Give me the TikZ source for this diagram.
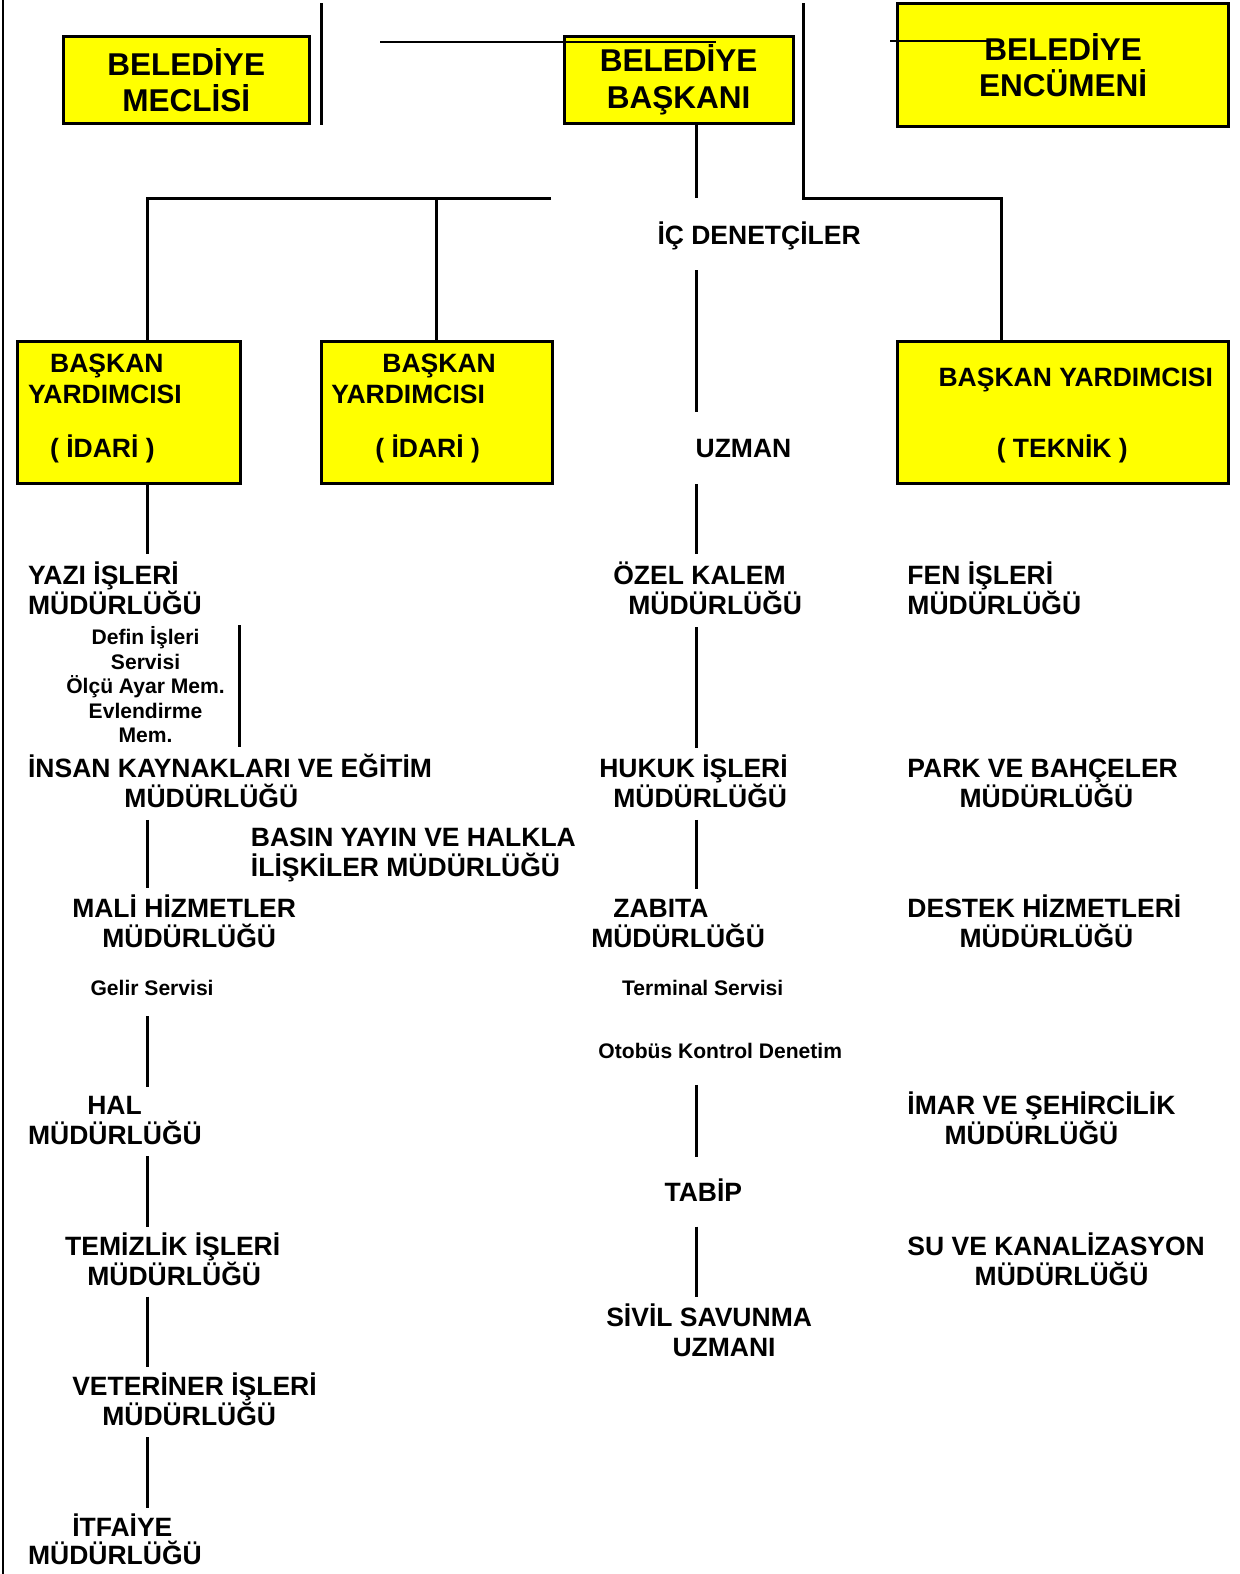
\documentclass[tikz,border=0pt]{standalone}
\usepackage{fontspec}
\setmainfont{Liberation Sans}
\usepackage{tikz}
\definecolor{boxyellow}{RGB}{255,255,0}

\begin{document}
\begin{tikzpicture}[x=0.5pt,y=-0.5pt]
    \tikzstyle{dept}=[font=\bfseries\fontsize{13.2}{15}\selectfont,inner sep=0pt,outer sep=0pt,anchor=base west,align=left]
    \tikzstyle{srv}=[font=\bfseries\fontsize{10.5}{12.25}\selectfont,inner sep=0pt,outer sep=0pt,anchor=base,align=center]
    \tikzstyle{topbox}=[draw,line width=1.5pt,fill=boxyellow,inner sep=0pt,align=center,font=\bfseries\fontsize{15.7}{18}\selectfont]
    \tikzstyle{vicebox}=[draw,line width=1.5pt,fill=boxyellow,inner sep=0pt,minimum height=71pt]
    \tikzstyle{link}=[line width=1.5pt]
    \tikzstyle{hair}=[line width=0.85pt]

    \useasboundingbox (0,0) rectangle (1235,1568);
    \draw [line width=1pt] (3,0) -- (3,1568);

    % top boxes
    \node (mec) [topbox,minimum width=122.5pt,minimum height=43.5pt] at (185.5,79.5) {BELED\.IYE\\MECL\.IS\.I};
    \node (bsk) [topbox,minimum width=114pt,minimum height=43.5pt] at (676,79.5) {BELED\.IYE\\BAŞKANI};
    \node (enc) [topbox,minimum width=165pt,minimum height=61.5pt] at (1059,64.5) {BELED\.IYE\\ENCÜMEN\.I};

    % vice presidents (base = last line)
    \node (vl) [vicebox,minimum width=111.5pt] at (128.5,411) {};
    \node (vm) [vicebox,minimum width=115pt] at (435,411) {};
    \node (vr) [vicebox,minimum width=165pt] at (1059,411) {};
    \node (vltxt) [dept] at (28,455.5) {\hspace*{11pt}BAŞKAN\\YARDIMCISI\\[12pt]\hspace*{11pt}( İDARİ )};
    \node (vmtxt) [dept] at (330,455.5) {\hspace*{25.5pt}BAŞKAN\\YARDIMCISI\\[12pt]\hspace*{22pt}( İDARİ )};
    \node (vrtxt) [dept] at (935,455.5) {BAŞKAN YARDIMCISI\\[20pt]\hspace*{29pt}( TEKNİK )};

    % left column
    \node (yazi) [dept] at (28,612.5) {YAZI İŞLERİ\\MÜDÜRLÜĞÜ};
    \node (defin) [srv] at (145,740) {Defin İşleri\\Servisi\\Ölçü Ayar Mem.\\Evlendirme\\Mem.};
    \node (insan) [dept] at (28,804.5) {İNSAN KAYNAKLARI VE EĞİTİM\\\hspace*{48pt}MÜDÜRLÜĞÜ};
    \node (basin) [dept] at (250,873.5) {BASIN YAYIN VE HALKLA\\İLİŞKİLER MÜDÜRLÜĞÜ};
    \node (mali) [dept] at (72,943.5) {MALİ HİZMETLER\\\hspace*{15pt}MÜDÜRLÜĞÜ};
    \node (gelir) [srv] at (151.5,991.5) {Gelir Servisi};
    \node (hal) [dept] at (28,1140.5) {\hspace*{29.5pt}HAL\\MÜDÜRLÜĞÜ};
    \node (temiz) [dept] at (65,1280.5) {TEMİZLİK İŞLERİ\\\hspace*{11pt}MÜDÜRLÜĞÜ};
    \node (veter) [dept] at (72,1420.5) {VETERİNER İŞLERİ\\\hspace*{15pt}MÜDÜRLÜĞÜ};
    \node (itfa) [dept] at (28,1558.5) {\hspace*{22pt}İTFAİYE\\[-1pt]MÜDÜRLÜĞÜ};

    % middle column
    \node (icd) [dept] at (655,243.5) {İÇ DENETÇİLER};
    \node (uzman) [dept] at (693,455.5) {UZMAN};
    \node (ozel) [dept] at (611,612.5) {ÖZEL KALEM\\\hspace*{7.5pt}MÜDÜRLÜĞÜ};
    \node (hukuk) [dept] at (597,804.5) {HUKUK İŞLERİ\\\hspace*{7pt}MÜDÜRLÜĞÜ};
    \node (zabita) [dept] at (589,943.5) {\hspace*{11pt}ZABITA\\MÜDÜRLÜĞÜ};
    \node (term) [srv] at (700,991.5) {Terminal Servisi};
    \node (otobus) [srv] at (717.5,1054.5) {Otobüs Kontrol Denetim};
    \node (tabip) [dept] at (662,1196.5) {TABİP};
    \node (sivil) [dept] at (604,1351.5) {SİVİL SAVUNMA\\\hspace*{33pt}UZMANI};

    % right column
    \node (fen) [dept] at (904,612.5) {FEN İŞLERİ\\MÜDÜRLÜĞÜ};
    \node (park) [dept] at (904,804.5) {PARK VE BAHÇELER\\\hspace*{26pt}MÜDÜRLÜĞÜ};
    \node (destek) [dept] at (904,943.5) {DESTEK HİZMETLERİ\\\hspace*{26pt}MÜDÜRLÜĞÜ};
    \node (imar) [dept] at (904,1140.5) {İMAR VE ŞEHİRCİLİK\\\hspace*{18.5pt}MÜDÜRLÜĞÜ};
    \node (su) [dept] at (904,1280.5) {SU VE KANALİZASYON\\\hspace*{33.5pt}MÜDÜRLÜĞÜ};

    \coordinate (spine) at (694,0);
    \coordinate (lspine) at (146.5,0);
    \coordinate (lsub) at (239,0);
    \coordinate (mtop) at (320,3);
    \coordinate (ctop) at (800.6,3);
    \coordinate (rbend) at (998,197.5);
    \coordinate (lbus) at (549,197.5);
    \coordinate (hl) at (378.6,41.8);
    \coordinate (hr) at (887,40.5);

    % top lines
    \draw [link] (mtop) -- (mtop |- mec.south);
    \draw [hair] (hl) -- ++(334.4,0);
    \draw [hair] (hr) -- ++(100.5,0);
    \draw [link] (ctop) |- (rbend) -- (vr.north -| rbend);
    \draw [link] (lbus) -| (vl.north -| lspine);
    \draw [link] (vm.north) -- (vm.north |- lbus);

    % middle spine
    \draw [link,shorten >=11.9pt] (bsk.south -| spine) -- (icd.north -| spine);
    \draw [link,shorten <=10pt,shorten >=13.3pt] (icd.south -| spine) -- (uzman.north -| spine);
    \draw [link,shorten <=13.25pt,shorten >=3.9pt] (uzman.south -| spine) -- (ozel.north -| spine);
    \draw [link,shorten <=6pt,shorten >=3.4pt] (ozel.south -| spine) -- (hukuk.north -| spine);
    \draw [link,shorten <=6pt,shorten >=4.8pt] (hukuk.south -| spine) -- (zabita.north -| spine);
    \draw [link,shorten <=13pt,shorten >=10.9pt] (otobus.south -| spine) -- (tabip.north -| spine);
    \draw [link,shorten <=12.75pt,shorten >=3.4pt] (tabip.south -| spine) -- (sivil.north -| spine);

    % left spine
    \draw [link,shorten >=3.9pt] (vl.south -| lspine) -- (yazi.north -| lspine);
    \draw [link,shorten <=5pt,shorten >=3.4pt] (yazi.south -| lsub) -- (insan.north -| lsub);
    \draw [link,shorten <=6pt,shorten >=2.9pt] (insan.south -| lspine) -- (mali.north -| lspine);
    \draw [link,shorten <=10.25pt,shorten >=4.8pt] (gelir.south -| lspine) -- (hal.north -| lspine);
    \draw [link,shorten <=5.5pt,shorten >=2.9pt] (hal.south -| lspine) -- (temiz.north -| lspine);
    \draw [link,shorten <=5.5pt,shorten >=2.9pt] (temiz.south -| lspine) -- (veter.north -| lspine);
    \draw [link,shorten <=5.5pt,shorten >=2.9pt] (veter.south -| lspine) -- (itfa.north -| lspine);
\end{tikzpicture}
\end{document}
